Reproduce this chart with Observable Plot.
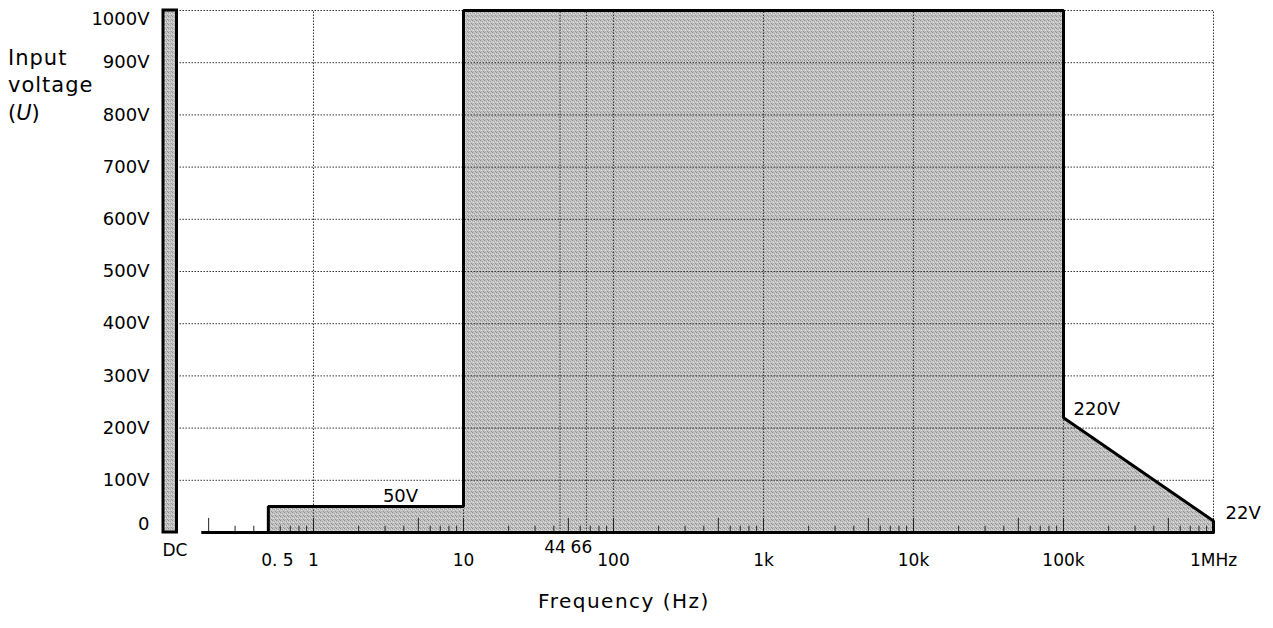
<!DOCTYPE html>
<html><head><meta charset="utf-8">
<script src="https://cdn.jsdelivr.net/npm/d3@7"></script>
<script src="https://cdn.jsdelivr.net/npm/@observablehq/plot@0.6"></script>
<style>body{margin:0;background:#fff} svg{display:block}</style>
</head><body><div id="chart"></div>
<script>
// Envelope of permissible input voltage vs frequency
const envelopeFreq = [0.5, 0.5, 10, 10, 1e5, 1e5, 1e6, 1e6];
const envelopeVolt = [0, 50, 50, 1000, 1000, 220, 22, 0];
// DC bar (drawn at the left end of the axis)
const dcFreq = [0.1, 0.123];
const dcVolt = 1000;
// Axis ticks / labels
const yTicks = [0, 100, 200, 300, 400, 500, 600, 700, 800, 900, 1000];
const xGrid = [1, 10, 44, 66, 100, 1e3, 1e4, 1e5, 1e6];
const xLabels = ["1", "10", "100", "1k", "10k", "100k", "1MHz"];
const xLabelFreq = [1, 10, 100, 1e3, 1e4, 1e5, 1e6];
const xLabelHalf = "0. 5";
const xLabelHalfFreq = 0.5;
const xLabelsHigh = ["44", "66"];
const xLabelsHighFreq = [44, 66];
const baselineFreq = [0.18, 1e6];
// Annotations
const annoText = ["50V", "220V", "22V"];
const annoFreq = [10, 1e5, 1e6];
const annoVolt = [50, 220, 22];

const envelope = envelopeFreq.map((f, i) => ({f, v: envelopeVolt[i]}));
const minor = [];
[0.1, 1, 10, 100, 1e3, 1e4, 1e5].forEach(d => {
  for (let k = 2; k <= 10; k++) {
    const f = d * k;
    if (f < 0.19 || f > 1e6 * 1.0001) continue;
    minor.push({f, tall: (k === 5 || k === 10 || Math.abs(f - 0.2) < 1e-9)});
  }
});
const yMid = yTicks.filter(v => v !== 0 && v !== 1000);
const font = "DejaVu Sans";
const FILL = "url(#stipple)";

const plot = Plot.plot({
  width: 1273, height: 628,
  marginLeft: 163, marginRight: 60, marginTop: 10, marginBottom: 96,
  x: {type: "log", domain: [0.1, 1e6], axis: null},
  y: {type: "linear", domain: [0, 1000], axis: null},
  style: {fontFamily: font, background: "#fff"},
  marks: [
    Plot.areaY(envelope, {x: "f", y1: 0, y2: "v", fill: FILL, curve: "linear"}),
    // horizontal grid
    Plot.ruleY(yTicks.filter(v => v > 0), {x1: dcFreq[1], x2: 1e6, stroke: "#333", strokeWidth: 1, strokeDasharray: "1.5,1.5"}),
    // vertical grid
    Plot.ruleX(xGrid, {y1: 0, y2: 1000, stroke: "#333", strokeWidth: 1, strokeDasharray: "1.5,1.5"}),
    // minor ticks on baseline
    Plot.ruleX(minor.filter(d => d.tall), {x: "f", y1: 0, y2: 27, stroke: "#222", strokeWidth: 1}),
    Plot.ruleX(minor.filter(d => !d.tall), {x: "f", y1: 0, y2: 12, stroke: "#222", strokeWidth: 1}),
    // baseline
    Plot.ruleY([0], {x1: baselineFreq[0], x2: baselineFreq[1], stroke: "#000", strokeWidth: 3}),
    // envelope outline
    Plot.line(envelope, {x: "f", y: "v", stroke: "#000", strokeWidth: 3, curve: "linear", strokeLinejoin: "miter"}),
    // DC bar
    Plot.rectY([{x1: dcFreq[0], x2: dcFreq[1], y: dcVolt}], {x1: "x1", x2: "x2", y: "y", fill: FILL, stroke: "#000", strokeWidth: 3}),
    // y tick labels
    Plot.text(yMid, {y: d => d, text: d => d + "V", frameAnchor: "left", textAnchor: "end", dx: -14, fontSize: 18, fill: "#000"}),
    Plot.text([1000], {y: d => d, text: d => d + "V", frameAnchor: "left", textAnchor: "end", dx: -14, dy: 9, fontSize: 18, fill: "#000"}),
    Plot.text([0], {y: d => d, text: d => String(d), frameAnchor: "left", textAnchor: "end", dx: -14, dy: -8, fontSize: 18, fill: "#000"}),
    // x tick labels
    Plot.text(xLabels, {x: (d, i) => xLabelFreq[i], y: () => 0, text: d => d, dy: 28, fontSize: 17, fill: "#000"}),
    Plot.text([xLabelHalf], {x: () => xLabelHalfFreq, y: () => 0, text: d => d, dx: 9, dy: 28, fontSize: 17, fill: "#000"}),
    Plot.text(xLabelsHigh, {x: (d, i) => xLabelsHighFreq[i], y: () => 0, text: d => d, dx: -5, dy: 15, fontSize: 17, fill: "#000"}),
    Plot.text(["DC"], {x: () => dcFreq[0], y: () => 0, text: d => d, textAnchor: "start", dx: -1, dy: 18, fontSize: 17, fill: "#000"}),
    // annotations
    Plot.text([0], {x: () => annoFreq[0], y: () => annoVolt[0], text: () => annoText[0], dx: -63, dy: -10, fontSize: 18, fill: "#000"}),
    Plot.text([0], {x: () => annoFreq[1], y: () => annoVolt[1], text: () => annoText[1], textAnchor: "start", dx: 10, dy: -8, fontSize: 18, fill: "#000"}),
    Plot.text([0], {x: () => annoFreq[2], y: () => annoVolt[2], text: () => annoText[2], textAnchor: "start", dx: 12, dy: -8, fontSize: 18, fill: "#000"})
  ]
});

const svg = d3.select(plot);
const defs = svg.insert("defs", ":first-child");
const pat = defs.append("pattern").attr("id", "stipple").attr("patternUnits", "userSpaceOnUse")
  .attr("width", 4).attr("height", 4);
pat.append("rect").attr("width", 4).attr("height", 4).attr("fill", "#c2c2c2");
[[0,0,"#8e8e8e"],[2,1,"#a0a0a0"],[1,2,"#e2e2e2"],[3,3,"#969696"],[3,1,"#dcdcdc"],[1,3,"#b0b0b0"]].forEach(([x,y,c]) =>
  pat.append("rect").attr("x", x).attr("y", y).attr("width", 1).attr("height", 1).attr("fill", c));

// Axis titles
const yt = svg.append("text").attr("font-family", font).attr("font-size", 21).attr("fill", "#000").attr("text-anchor", "start");
yt.append("tspan").attr("x", 8).attr("y", 65).attr("letter-spacing", 1).text("Input");
yt.append("tspan").attr("x", 8).attr("y", 92).attr("letter-spacing", 1).text("voltage");
yt.append("tspan").attr("x", 8).attr("y", 120).text("(");
yt.append("tspan").attr("font-style", "italic").text("U");
yt.append("tspan").text(")");
svg.append("text").attr("font-family", font).attr("font-size", 20).attr("fill", "#000")
  .attr("x", 624).attr("y", 608).attr("text-anchor", "middle").attr("letter-spacing", 1.5)
  .text("Frequency (Hz)");

document.getElementById("chart").appendChild(plot);
</script>
</body></html>
